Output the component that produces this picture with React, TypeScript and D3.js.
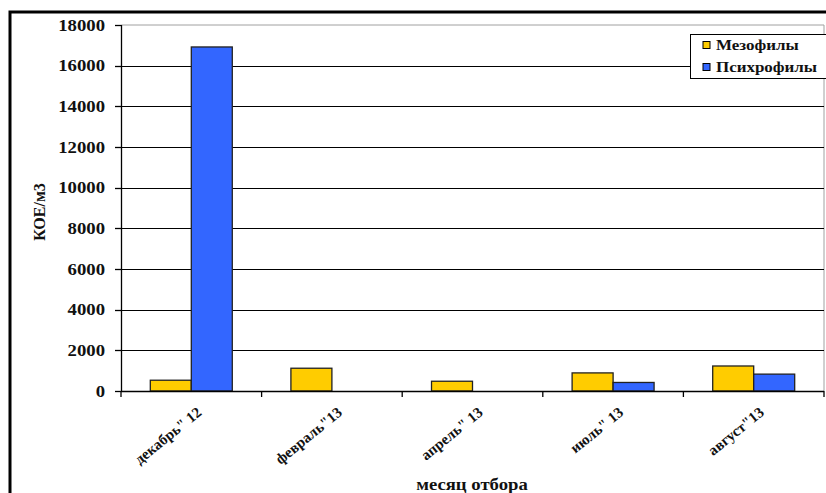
import React from "react";
import * as d3 from "d3";

const categories = ['декабрь" 12', 'февраль"13', 'апрель" 13', 'июль" 13', 'август"13'];
const mesophiles = [530, 1120, 480, 890, 1230];
const psychrophiles = [16920, 0, 0, 420, 830];
const seriesNames = ["Мезофилы", "Психрофилы"];
const seriesColors = ["#FFCC00", "#3366FF"];
const yTicks = [0, 2000, 4000, 6000, 8000, 10000, 12000, 14000, 16000, 18000];

const W = 826;
const H = 493;
const M = { left: 121, right: 824, top: 25, bottom: 391 };
const FONT = '"Liberation Serif", "Times New Roman", "DejaVu Serif", serif';
const SX = 1.17;

export default function App() {
  const x = d3.scaleBand<string>().domain(categories).range([M.left, M.right]).paddingInner(0).paddingOuter(0);
  const y = d3.scaleLinear().domain([0, 18000]).range([M.bottom, M.top]);
  const inner = d3.scaleBand<number>().domain([0, 1]).range([0, x.bandwidth()]).paddingInner(0).paddingOuter(0.715);
  const series = [mesophiles, psychrophiles];

  return (
    <svg width={W} height={H} style={{ position: "absolute", left: 0, top: 0, background: "#fff", fontFamily: FONT }}>
      <rect x={0} y={0} width={W} height={H} fill="#fff" />
      {/* outer frame */}
      <path d={`M10,${H + 5}V12H${W + 5}`} fill="none" stroke="#000" strokeWidth={3} />
      {/* plot area border */}
      <path d={`M${M.left},${M.top}H${M.right}V${M.bottom}`} fill="none" stroke="#a0a0a0" strokeWidth={1} />
      {/* gridlines */}
      {yTicks.filter((t) => t > 0 && t < 18000).map((t) => (
        <line key={t} x1={M.left} x2={M.right} y1={Math.round(y(t)) + 0.5} y2={Math.round(y(t)) + 0.5} stroke="#000" strokeWidth={1} />
      ))}
      {/* bars */}
      {categories.map((c, i) => (
        <g key={c}>
          {series.map((s, j) =>
            s[i] > 0 ? (
              <rect
                key={j}
                x={(x(c) as number) + (inner(j) as number)}
                y={y(s[i])}
                width={inner.bandwidth()}
                height={y(0) - y(s[i])}
                fill={seriesColors[j]}
                stroke="#222"
                strokeWidth={1.3}
              />
            ) : null
          )}
        </g>
      ))}
      {/* y axis */}
      <line x1={M.left + 0.5} x2={M.left + 0.5} y1={M.top} y2={M.bottom} stroke="#000" strokeWidth={1.3} />
      {yTicks.map((t) => (
        <g key={t}>
          <line x1={M.left - 6} x2={M.left} y1={Math.round(y(t)) + 0.5} y2={Math.round(y(t)) + 0.5} stroke="#000" strokeWidth={1.3} />
          <text
            transform={`translate(${M.left - 16},${y(t)}) scale(${SX},1)`}
            dy="0.35em"
            textAnchor="end"
            fontSize={16}
            fontWeight="bold"
            fill="#111"
            style={{ fontFamily: FONT }}
          >
            {t}
          </text>
        </g>
      ))}
      {/* x axis */}
      <line x1={M.left} x2={M.right} y1={M.bottom + 0.5} y2={M.bottom + 0.5} stroke="#000" strokeWidth={1.3} />
      {d3.range(categories.length + 1).map((i) => {
        const xx = M.left + i * x.bandwidth();
        return <line key={i} x1={xx} x2={xx} y1={M.bottom} y2={M.bottom + 6} stroke="#000" strokeWidth={1.3} />;
      })}
      {categories.map((c) => {
        const cx = (x(c) as number) + x.bandwidth() / 2;
        return (
          <text
            key={c}
            transform={`translate(${cx + 8},${M.bottom + 19}) rotate(-39)`}
            textAnchor="end"
            dy="0.35em"
            fontSize={15}
            fontWeight="bold"
            fill="#111"
            style={{ fontFamily: FONT }}
          >
            {c}
          </text>
        );
      })}
      {/* axis titles */}
      <text transform={`translate(39,212) rotate(-90)`} textAnchor="middle" dy="0.35em" fontSize={16} fontWeight="bold" fill="#111" style={{ fontFamily: FONT }}>
        КОЕ/м3
      </text>
      <text transform={`translate(472,484) scale(${SX},1)`} textAnchor="middle" dy="0.35em" fontSize={16} fontWeight="bold" fill="#111" style={{ fontFamily: FONT }}>
        месяц отбора
      </text>
      {/* legend */}
      <rect x={690.5} y={34.5} width={140} height={44} fill="#fff" stroke="#000" strokeWidth={1} />
      {seriesNames.map((n, j) => (
        <g key={n} transform={`translate(703,${45 + j * 22})`}>
          <rect x={0} y={-3.5} width={7} height={7} fill={seriesColors[j]} stroke="#000" strokeWidth={1} />
          <text transform={`translate(13,0) scale(${SX},1)`} dy="0.35em" fontSize={14.5} fontWeight="bold" fill="#111" style={{ fontFamily: FONT }}>
            {n}
          </text>
        </g>
      ))}
    </svg>
  );
}
